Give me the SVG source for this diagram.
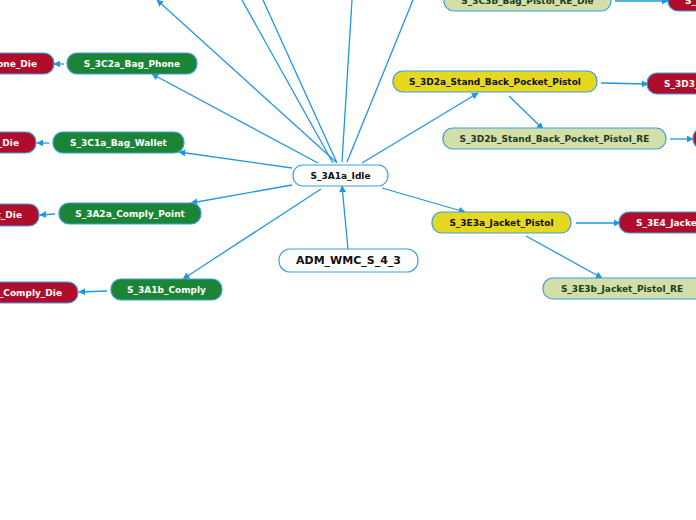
<svg xmlns="http://www.w3.org/2000/svg" width="696" height="520" viewBox="0 0 696 520">
<defs>
<marker id="ah" viewBox="0 0 10 10" refX="9" refY="5" markerWidth="7" markerHeight="7" markerUnits="userSpaceOnUse" orient="auto">
<path d="M0,0 L10,5 L0,10 z" fill="#2196e0"/>
</marker>
<style>
.n rect{stroke:#3aa0e0;stroke-width:1.2}
.n text{font-family:"DejaVu Sans",sans-serif;font-weight:bold;font-size:9px;text-anchor:middle;dominant-baseline:central}
.n text.e{text-anchor:end}
.n text.s{text-anchor:start}
.w rect{fill:#ffffff}.w text{fill:#111}
.g rect{fill:#1b8535}.g text{fill:#ffffff}
.r rect{fill:#b00c2b}.r text{fill:#ffffff}
.y rect{fill:#e5d81e}.y text{fill:#111}
.l rect{fill:#d3dfa8}.l text{fill:#1e3a1e}
.c line{stroke:#2196e0;stroke-width:1.3;marker-end:url(#ah)}
.c line.p{marker-end:none}
</style>
</defs>
<rect width="696" height="520" fill="#ffffff"/>
<g class="c" id="connectors">
<line x1="336" y1="162" x2="157" y2="0"/>
<line class="p" x1="333" y1="163" x2="242" y2="0"/>
<line class="p" x1="337" y1="163" x2="263" y2="0"/>
<line class="p" x1="342" y1="162" x2="352" y2="0"/>
<line class="p" x1="347" y1="162" x2="413" y2="0"/>
<line x1="318" y1="163" x2="152" y2="74"/>
<line x1="292" y1="168" x2="179" y2="152"/>
<line x1="292" y1="185" x2="191" y2="203"/>
<line x1="321" y1="189" x2="183" y2="279"/>
<line x1="362" y1="163" x2="478" y2="93"/>
<line x1="382" y1="188" x2="465" y2="212"/>
<line x1="348" y1="249" x2="342" y2="186"/>
<line x1="509" y1="96" x2="543" y2="129"/>
<line x1="601" y1="83" x2="648" y2="84"/>
<line x1="670" y1="139" x2="693" y2="139"/>
<line x1="615" y1="1" x2="668" y2="1"/>
<line x1="576" y1="223" x2="620" y2="223"/>
<line x1="526" y1="236" x2="602" y2="278"/>
<line x1="64" y1="64" x2="54" y2="64"/>
<line x1="49" y1="143" x2="37" y2="143"/>
<line x1="55" y1="214" x2="40" y2="215"/>
<line x1="107" y1="291" x2="79" y2="292"/>
</g>
<g id="idle" class="n w"><rect x="293" y="165" width="95" height="21" rx="10"/><text x="340.5" y="175.5">S_3A1a_Idle</text></g>
<g id="adm" class="n w"><rect x="279" y="249" width="139" height="23" rx="11"/><text x="348.5" y="260.5" style="font-size:11px">ADM_WMC_S_4_3</text></g>
<g id="bagphone" class="n g"><rect x="67" y="53" width="130" height="21" rx="10"/><text x="132" y="63.5">S_3C2a_Bag_Phone</text></g>
<g id="bagwallet" class="n g"><rect x="53" y="132" width="131" height="21" rx="10"/><text x="118.5" y="142.5">S_3C1a_Bag_Wallet</text></g>
<g id="complypoint" class="n g"><rect x="59" y="203" width="142" height="21" rx="10"/><text x="130" y="213.5">S_3A2a_Comply_Point</text></g>
<g id="comply" class="n g"><rect x="111" y="279" width="111" height="21" rx="10"/><text x="166.5" y="289.5">S_3A1b_Comply</text></g>
<g id="phonedie" class="n r"><rect x="-90" y="53" width="144" height="21" rx="10"/><text class="e" x="37" y="63.5">S_3C2b_Bag_Phone_Die</text></g>
<g id="walletdie" class="n r"><rect x="-120" y="132" width="156" height="21" rx="10"/><text class="e" x="19" y="142.5">S_3C1b_Bag_Wallet_Die</text></g>
<g id="pointdie" class="n r"><rect x="-130" y="204" width="169" height="22" rx="10"/><text class="e" x="22" y="215">S_3A2b_Comply_Point_Die</text></g>
<g id="complydie" class="n r"><rect x="-60" y="282" width="138" height="21" rx="10"/><text class="e" x="62" y="292.5">S_3A1c_Comply_Die</text></g>
<g id="d2a" class="n y"><rect x="393" y="71" width="204" height="21" rx="10"/><text x="495" y="81.5">S_3D2a_Stand_Back_Pocket_Pistol</text></g>
<g id="d2b" class="n l"><rect x="443" y="128" width="223" height="21" rx="10"/><text x="554.5" y="138.5">S_3D2b_Stand_Back_Pocket_Pistol_RE</text></g>
<g id="c3b" class="n l"><rect x="444" y="-10" width="167" height="21" rx="10"/><text x="527.5" y="0.5">S_3C3b_Bag_Pistol_RE_Die</text></g>
<g id="e3a" class="n y"><rect x="432" y="212" width="139" height="21" rx="10"/><text x="501.5" y="222.5">S_3E3a_Jacket_Pistol</text></g>
<g id="e3b" class="n l"><rect x="543" y="278" width="170" height="21" rx="10"/><text x="622" y="288.5">S_3E3b_Jacket_Pistol_RE</text></g>
<g id="e4" class="n r"><rect x="619" y="212" width="150" height="21" rx="10"/><text class="s" x="636" y="222.5">S_3E4_Jacket_Pistol_Die</text></g>
<g id="d3" class="n r"><rect x="647" y="73" width="230" height="21" rx="10"/><text class="s" x="664" y="83.5">S_3D3_Stand_Back_Pocket_Pistol_Die</text></g>
<g id="d2bdie" class="n r"><rect x="693" y="128" width="120" height="21" rx="10"/><text class="s" x="710" y="138.5">S_3D2c_Die</text></g>
<g id="c3bdie" class="n r"><rect x="668" y="-10" width="140" height="21" rx="10"/><text class="s" x="685" y="0.5">S_3C4_Bag_Die</text></g>
</svg>
